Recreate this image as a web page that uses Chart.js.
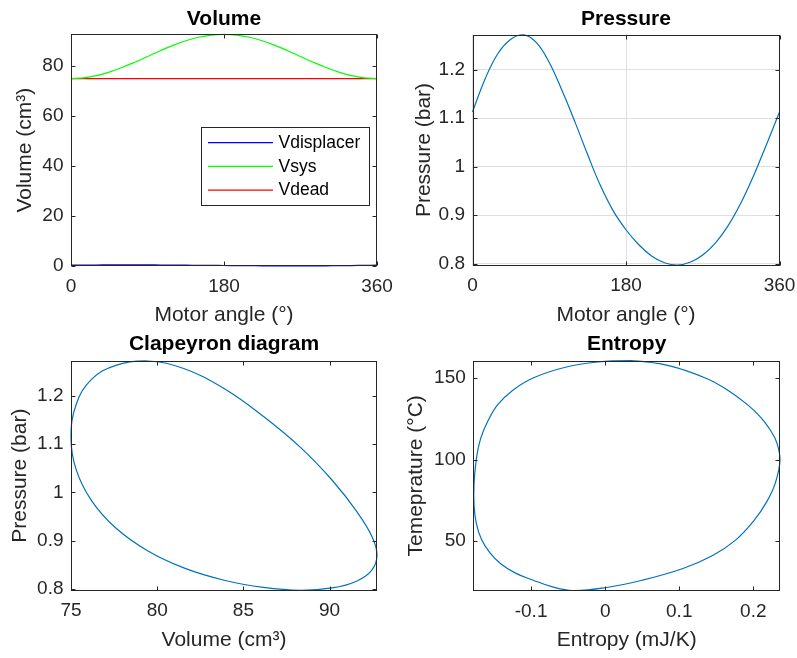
<!DOCTYPE html>
<html>
<head>
<meta charset="utf-8">
<script src="https://cdn.jsdelivr.net/npm/chart.js@4/dist/chart.umd.min.js"></script>
<style>
html,body{margin:0;padding:0;background:#fff;}
#fig{position:relative;width:797px;height:658px;background:#fff;overflow:hidden;}
canvas{position:absolute;display:block;}
</style>
</head>
<body>
<div id="fig">
<canvas id="cVolume" width="398" height="329" style="left:0;top:0"></canvas>
<canvas id="cPressure" width="399" height="329" style="left:398px;top:0"></canvas>
<canvas id="cClapeyron" width="398" height="329" style="left:0;top:329px"></canvas>
<canvas id="cEntropy" width="399" height="329" style="left:398px;top:329px"></canvas>
</div>
<script>
// ---------- data ----------
const motorAngle = [0,15,30,45,60,75,90,105,120,135,150,165,180,195,210,225,240,255,270,285,300,315,330,345,360];
const vDisplacer = [0.35,0.38,0.40,0.42,0.43,0.43,0.42,0.40,0.37,0.33,0.29,0.25,0.20,0.16,0.12,0.09,0.07,0.05,0.05,0.06,0.08,0.12,0.18,0.26,0.35];
const vSys = [75.00,75.30,76.19,77.60,79.44,81.58,83.88,86.17,88.31,90.15,91.56,92.45,92.75,92.45,91.56,90.15,88.31,86.17,83.88,81.58,79.44,77.60,76.19,75.30,75.00];
const vDead = [75,75,75,75,75,75,75,75,75,75,75,75,75,75,75,75,75,75,75,75,75,75,75,75,75];
const pressure = [1.113,1.182,1.234,1.263,1.272,1.256,1.215,1.157,1.093,1.025,0.961,0.909,0.870,0.839,0.816,0.802,0.797,0.803,0.818,0.843,0.879,0.926,0.983,1.047,1.113];
const entropyS = [-0.044,0.000,0.050,0.105,0.145,0.176,0.200,0.218,0.230,0.236,0.232,0.224,0.210,0.192,0.165,0.136,0.087,0.035,-0.010,-0.055,-0.098,-0.125,-0.145,-0.158,-0.168,-0.174,-0.177,-0.177,-0.174,-0.167,-0.156,-0.141,-0.121,-0.098,-0.071,-0.044];
const temperatureC = [19.5,21.2,25.8,33.0,41.0,50.5,62.0,74.0,86.0,100.0,110.0,117.4,126.0,133.8,142.8,150.0,157.6,160.8,160.0,156.6,150.0,142.5,133.8,124.0,113.0,100.0,85.0,72.0,61.0,51.0,43.0,36.0,30.2,26.0,21.7,19.5];

const angleTicks = [0,180,360];
const volumeTicks = [0,20,40,60,80];
const pressureTicks = [0.8,0.9,1,1.1,1.2];
const clapeyronVolumeTicks = [75,80,85,90];
const entropyTicks = [-0.1,0,0.1,0.2];
const temperatureTicks = [50,100,150];

const angleRange = [0,360];
const volumeRange = [0,92.75];
const pressureRange = [0.7963,1.2726];
const clapeyronVolumeRange = [75,92.75];
const entropyRange = [-0.178,0.236];
const temperatureRange = [19.2,160.8];

// ---------- styling ----------
const FONT = "'Liberation Sans', Arial, Helvetica, sans-serif";
const AX = '#262626';
const GRID = '#dfdfdf';
const MBLUE = '#0072bd';
const fmt = v => String(Math.round(v*1000)/1000);

const framePlugin = {
  id: 'matlabFrame',
  afterDraw(chart) {
    const {ctx, chartArea: a, scales: {x, y}} = chart;
    ctx.save();
    ctx.strokeStyle = AX;
    ctx.lineWidth = 1;
    const L = Math.round(a.left) + 0.5, R = Math.round(a.right) - 0.5;
    const T = Math.round(a.top) + 0.5, B = Math.round(a.bottom) - 0.5;
    ctx.strokeRect(L, T, R - L, B - T);
    const tl = 4;
    ctx.beginPath();
    x.ticks.forEach(t => {
      const p = Math.round(x.getPixelForValue(t.value)) + 0.5;
      ctx.moveTo(p, B); ctx.lineTo(p, B - tl);
      ctx.moveTo(p, T); ctx.lineTo(p, T + tl);
    });
    y.ticks.forEach(t => {
      const p = Math.round(y.getPixelForValue(t.value)) + 0.5;
      ctx.moveTo(L, p); ctx.lineTo(L + tl, p);
      ctx.moveTo(R, p); ctx.lineTo(R - tl, p);
    });
    ctx.stroke();
    ctx.restore();
  }
};

const boxLegendPlugin = {
  id: 'boxLegend',
  afterDraw(chart) {
    const ctx = chart.ctx;
    ctx.save();
    ctx.fillStyle = '#fff';
    ctx.fillRect(201.5, 127.5, 168, 78);
    ctx.strokeStyle = AX; ctx.lineWidth = 1;
    ctx.strokeRect(201.5, 127.5, 168, 78);
    ctx.font = '17.5px ' + FONT;
    ctx.textBaseline = 'middle'; ctx.textAlign = 'left';
    chart.data.datasets.forEach((ds, i) => {
      const yy = 142.7 + i * 23.7;
      ctx.strokeStyle = ds.borderColor; ctx.lineWidth = 1.2;
      ctx.beginPath(); ctx.moveTo(208, yy); ctx.lineTo(273, yy); ctx.stroke();
      ctx.fillStyle = '#000';
      ctx.fillText(ds.label, 278.5, yy + 0.5);
    });
    ctx.restore();
  }
};

function buildChart(id, spec) {
  const c = document.getElementById(id);
  const W = c.width, H = c.height;
  const a = spec.area;
  const tickFont = {family: FONT, size: 19};
  const labFont = {family: FONT, size: 21, lineHeight: 1.2};
  const zeroPad = s => { s.paddingLeft = 0; s.paddingRight = 0; s.paddingTop = 0; s.paddingBottom = 0; };
  return new Chart(c, {
    type: 'scatter',
    data: {datasets: spec.datasets},
    options: {
      responsive: false, animation: false, devicePixelRatio: 1,
      layout: {padding: {left: 0, top: 0, right: W - a.r, bottom: 0}},
      elements: {point: {radius: 0, hoverRadius: 0}},
      plugins: {
        legend: {display: false}, tooltip: {enabled: false},
        title: {display: true, text: spec.title, fullSize: false, color: '#000',
          font: {family: FONT, size: 21, weight: 'bold', lineHeight: 1.2},
          padding: {top: spec.titleTop, bottom: a.t - 25.2 - spec.titleTop}}
      },
      scales: {
        x: {type: 'linear', position: 'bottom', min: spec.xRange[0], max: spec.xRange[1],
          afterBuildTicks: s => { s.ticks = spec.xTicks.map(v => ({value: v})); },
          afterFit: s => { s.height = H - a.b; zeroPad(s); },
          grid: {display: !!spec.grid, drawTicks: false, color: GRID, lineWidth: 1},
          border: {display: false},
          ticks: {padding: 9, color: AX, font: tickFont, maxRotation: 0, autoSkip: false, callback: fmt},
          title: {display: true, text: spec.xTitle, color: AX, font: labFont, padding: {top: 0, bottom: spec.xTitleBottom}}
        },
        y: {type: 'linear', position: 'left', min: spec.yRange[0], max: spec.yRange[1],
          afterBuildTicks: s => { s.ticks = spec.yTicks.map(v => ({value: v})); },
          afterFit: s => { s.width = a.l; zeroPad(s); },
          grid: {display: !!spec.grid, drawTicks: false, color: GRID, lineWidth: 1},
          border: {display: false},
          ticks: {padding: 7.5, color: AX, font: tickFont, autoSkip: false, callback: fmt},
          title: {display: true, text: spec.yTitle, color: AX, font: labFont, padding: {top: spec.yTitleOff, bottom: 0}}
        }
      }
    },
    plugins: [framePlugin].concat(spec.plugins || [])
  });
}

const pts = (xs, ys) => xs.map((v, i) => ({x: v, y: ys[i]}));
const lineDs = (label, data, color) => ({
  label, data, showLine: true, borderColor: color, backgroundColor: color,
  borderWidth: 1.2, pointRadius: 0, clip: 1, tension: 0.4
});
// closed loop (first point == last point): add the neighbours on both ends so the
// spline stays smooth at the closure; the two extra segments are left unstroked.
const loopDs = (label, loopPts, color) => {
  const n = loopPts.length;
  const data = [loopPts[n - 2]].concat(loopPts, [loopPts[1]]);
  const m = data.length;
  const ds = lineDs(label, data, color);
  ds.segment = {borderColor: ctx => (ctx.p0DataIndex === 0 || ctx.p0DataIndex === m - 2) ? 'rgba(0,0,0,0)' : undefined};
  return ds;
};

const clapeyronPts = motorAngle.map((_, i) => ({x: vSys[i], y: pressure[i]}));

buildChart('cVolume', {
  title: 'Volume', area: {l: 71, t: 34.3, r: 377, b: 266}, titleTop: 6.2, xTitleBottom: 1.4, yTitleOff: 12.9,
  xRange: angleRange, yRange: volumeRange, xTicks: angleTicks, yTicks: volumeTicks,
  xTitle: 'Motor angle (°)', yTitle: 'Volume (cm³)',
  datasets: [
    lineDs('Vdisplacer', pts(motorAngle, vDisplacer), '#0000ff'),
    lineDs('Vsys', pts(motorAngle, vSys), '#00ff00'),
    lineDs('Vdead', pts(motorAngle, vDead), '#ff0000')
  ],
  plugins: [boxLegendPlugin]
});

buildChart('cPressure', {
  title: 'Pressure', area: {l: 74.5, t: 34.5, r: 381.5, b: 265.5}, titleTop: 6.2, xTitleBottom: 1.4, yTitleOff: 13.2,
  xRange: angleRange, yRange: pressureRange, xTicks: angleTicks, yTicks: pressureTicks, grid: true,
  xTitle: 'Motor angle (°)', yTitle: 'Pressure (bar)',
  datasets: [lineDs('Pressure', pts(motorAngle, pressure), MBLUE)]
});

buildChart('cClapeyron', {
  title: 'Clapeyron diagram', area: {l: 71, t: 31.7, r: 377, b: 261.7}, titleTop: 3.1, xTitleBottom: 5.4, yTitleOff: 7.9,
  xRange: clapeyronVolumeRange, yRange: pressureRange, xTicks: clapeyronVolumeTicks, yTicks: pressureTicks,
  xTitle: 'Volume (cm³)', yTitle: 'Pressure (bar)',
  datasets: [loopDs('Clapeyron', clapeyronPts, MBLUE)]
});

buildChart('cEntropy', {
  title: 'Entropy', area: {l: 75.3, t: 31.7, r: 382, b: 262}, titleTop: 3.1, xTitleBottom: 5.4, yTitleOff: 5.6,
  xRange: entropyRange, yRange: temperatureRange, xTicks: entropyTicks, yTicks: temperatureTicks,
  xTitle: 'Entropy (mJ/K)', yTitle: 'Temeprature (°C)',
  datasets: [loopDs('Entropy', pts(entropyS, temperatureC), MBLUE)]
});
</script>
</body>
</html>
